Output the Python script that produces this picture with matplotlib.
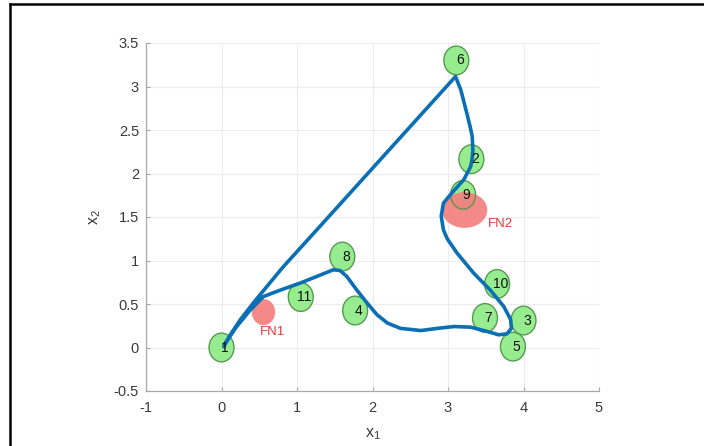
import matplotlib
matplotlib.use("Agg")
import matplotlib.pyplot as plt
from matplotlib.patches import Circle, Ellipse
from matplotlib.lines import Line2D

# node positions (numbered waypoints)
node_ids = [1, 2, 3, 4, 5, 6, 7, 8, 9, 10, 11]
node_x = [0.0, 3.31, 4.00, 1.77, 3.86, 3.11, 3.49, 1.60, 3.20, 3.65, 1.05]
node_y = [0.0, 2.165, 0.31, 0.425, 0.01, 3.30, 0.34, 1.045, 1.755, 0.73, 0.58]
node_r = 0.165

# false negatives: centre, half-width, half-height
fn_names = ["FN1", "FN2"]
fn_x = [0.556, 3.22]
fn_y = [0.407, 1.58]
fn_rx = [0.155, 0.30]
fn_ry = [0.15, 0.205]
fn_label_x = [0.67, 3.69]
fn_label_y = [0.18, 1.42]

# planned route
route_x = [0.03, 0.12, 0.25, 0.42, 0.60, 0.82, 1.04, 1.27, 3.10,
           3.17, 3.25, 3.29, 3.32, 3.33, 3.32, 3.30, 3.21, 3.05, 2.94, 2.91, 2.94, 2.99,
           3.12, 3.34, 3.56, 3.74, 3.83, 3.84, 3.78, 3.67, 3.52, 3.30, 3.08,
           2.86, 2.64, 2.37, 2.20, 2.06, 1.93, 1.79, 1.66, 1.57, 1.48, 1.26,
           1.04, 0.78, 0.556, 0.38, 0.20, 0.05]
route_y = [0.01, 0.15, 0.32, 0.51, 0.70, 0.93, 1.14, 1.36, 3.115,
           2.96, 2.69, 2.55, 2.43, 2.27, 2.17, 2.08, 1.93, 1.775, 1.66, 1.51, 1.35, 1.25,
           1.085, 0.855, 0.66, 0.47, 0.32, 0.22, 0.157, 0.146, 0.184, 0.234, 0.241,
           0.22, 0.195, 0.22, 0.28, 0.376, 0.51, 0.663, 0.816, 0.885, 0.893, 0.816,
           0.74, 0.66, 0.586, 0.43, 0.24, 0.05]

plt.rcParams.update({
    "font.family": ["Liberation Sans", "DejaVu Sans"],
    "mathtext.fontset": "custom",
    "mathtext.rm": "Liberation Sans",
    "mathtext.it": "Liberation Sans",
})

fig = plt.figure(figsize=(7.04, 4.46), dpi=100)
ax = fig.add_axes([146 / 704, 1 - 391 / 446, 453 / 704, 348 / 446])

# green node discs
for x, y in zip(node_x, node_y):
    ax.add_patch(Circle((x, y), node_r, facecolor="#96ec8e", edgecolor="none", zorder=2))

# red false-negative areas
for x, y, rx, ry in zip(fn_x, fn_y, fn_rx, fn_ry):
    ax.add_patch(Ellipse((x, y), 2 * rx, 2 * ry, facecolor="#f47f7f", edgecolor="none",
                         alpha=0.92, zorder=3))

# node outlines on top
for x, y in zip(node_x, node_y):
    ax.add_patch(Circle((x, y), node_r, facecolor="none", edgecolor="#569a52",
                        linewidth=1.0, zorder=4))

ax.plot(route_x, route_y, color="#0a6fb5", linewidth=2.6, solid_capstyle="round",
        solid_joinstyle="round", zorder=5)

for i, x, y in zip(node_ids, node_x, node_y):
    ax.annotate(str(i), (x, y), xytext=(2.5, 0), textcoords="offset points",
                ha="center", va="center", fontsize=10, color="#111111", zorder=6)

for name, x, y in zip(fn_names, fn_label_x, fn_label_y):
    ax.text(x, y, name, ha="center", va="center", fontsize=9.5, color="#e23b3b", zorder=6)

ax.set_xlim(-1, 5)
ax.set_ylim(-0.5, 3.5)
ax.set_xticks([-1, 0, 1, 2, 3, 4, 5])
ax.set_yticks([-0.5, 0, 0.5, 1, 1.5, 2, 2.5, 3, 3.5])
ax.set_xticklabels(["-1", "0", "1", "2", "3", "4", "5"])
ax.set_yticklabels(["-0.5", "0", "0.5", "1", "1.5", "2", "2.5", "3", "3.5"])
ax.grid(True, color="#ececec", linewidth=0.8)
ax.set_axisbelow(True)
for s in ["top", "right"]:
    ax.spines[s].set_visible(False)
for s in ["left", "bottom"]:
    ax.spines[s].set_color("#a8a8a8")
    ax.spines[s].set_linewidth(0.9)
ax.tick_params(axis="both", direction="in", length=3, color="#a8a8a8", labelcolor="#3a3a3a",
               labelsize=10.5)
ax.tick_params(axis="x", pad=7)
ax.tick_params(axis="y", pad=5)

ax.set_xlabel(r"x$_1$", fontsize=11.5, color="#3a3a3a", labelpad=8)
ax.set_ylabel(r"x$_2$", fontsize=11.5, color="#3a3a3a", labelpad=8)

# black frame (left and top edges visible in the reference)
fig.add_artist(Line2D([10 / 704, 10 / 704], [0, 1 - 4 / 446], color="black", linewidth=1.8,
                      transform=fig.transFigure))
fig.add_artist(Line2D([10 / 704, 1], [1 - 4 / 446, 1 - 4 / 446], color="black", linewidth=1.8,
                      transform=fig.transFigure))

fig.savefig("out.png", dpi=100)
